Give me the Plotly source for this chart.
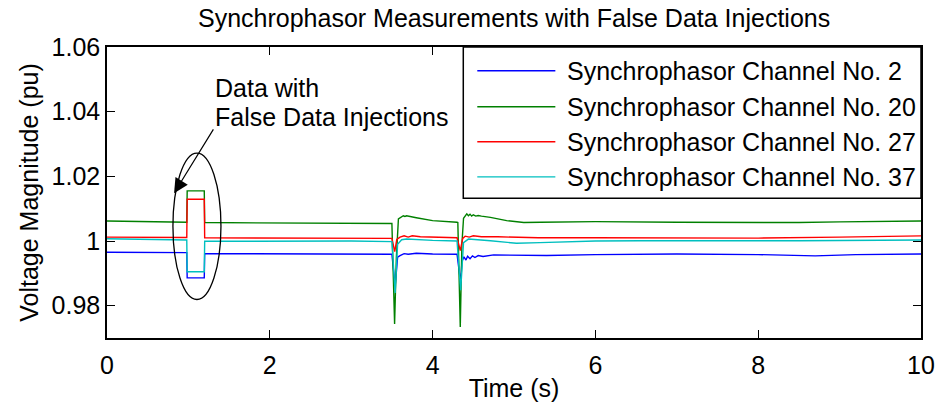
import plotly.graph_objects as go

# ---- data: time (s) and voltage magnitude (pu) breakpoints per channel ----
t_ch2 = [0, 0.98, 0.985, 1.195, 1.20, 2.0, 3.0, 3.50, 3.54, 3.57, 3.60, 3.65, 3.70, 3.80, 4.0,
         4.30, 4.345, 4.36, 4.385, 4.41, 4.43, 4.46, 4.49, 4.52, 4.56, 4.62, 4.75, 5.0, 5.4,
         6.0, 7.0, 8.0, 8.7, 9.2, 10.0]
v_ch2 = [0.9965, 0.9964, 0.9886, 0.9886, 0.9961, 0.9960, 0.9959, 0.9959, 0.9860, 0.9950, 0.9955,
         0.9961, 0.9959, 0.9962, 0.9960, 0.9959, 0.9870, 0.9936, 0.9951, 0.9941, 0.9953, 0.9945,
         0.9954, 0.9949, 0.9955, 0.9952, 0.9957, 0.9957, 0.9955, 0.9958, 0.9960, 0.9958, 0.9954,
         0.9958, 0.9960]

t_ch20 = [0, 0.5, 0.98, 0.985, 1.195, 1.20, 2.0, 3.0, 3.50, 3.533, 3.555, 3.58, 3.62, 3.64, 3.66,
          3.68, 3.80, 4.0, 4.30, 4.31, 4.34, 4.36, 4.38, 4.40, 4.42, 4.44, 4.46, 4.48, 4.50, 4.53,
          4.56, 4.60, 4.71, 4.91, 5.12, 5.33, 6.0, 7.0, 7.5, 8.5, 9.0, 10.0]
v_ch20 = [1.0062, 1.0060, 1.0058, 1.0155, 1.0155, 1.0057, 1.0056, 1.0055, 1.0054, 0.9743, 0.9950,
          1.0068, 1.0075, 1.0078, 1.0076, 1.0078, 1.0072, 1.0063, 1.0058, 1.0057, 0.9734, 0.9990,
          1.0070, 1.0078, 1.0084, 1.0078, 1.0083, 1.0077, 1.0081, 1.0077, 1.0079, 1.0077, 1.0073,
          1.0063, 1.0057, 1.0058, 1.0060, 1.0058, 1.0057, 1.0057, 1.0059, 1.0062]

t_ch27 = [0, 0.98, 0.985, 1.195, 1.20, 2.0, 3.0, 3.50, 3.535, 3.56, 3.60, 3.65, 3.70, 3.75, 3.85,
          4.0, 4.30, 4.34, 4.37, 4.40, 4.45, 4.50, 4.60, 4.80, 5.30, 6.0, 7.0, 8.0, 9.0, 10.0]
v_ch27 = [1.0012, 1.0011, 1.0129, 1.0129, 1.0010, 1.0009, 1.0008, 1.0008, 0.9967, 1.0005, 1.0012,
          1.0016, 1.0012, 1.0016, 1.0013, 1.0012, 1.0010, 0.9970, 1.0008, 1.0015, 1.0012, 1.0016,
          1.0013, 1.0013, 1.0010, 1.0010, 1.0010, 1.0009, 1.0012, 1.0016]

t_ch37 = [0, 0.5, 0.98, 0.985, 1.195, 1.20, 2.0, 3.0, 3.50, 3.54, 3.57, 3.62, 3.68, 3.80, 4.0,
          4.30, 4.345, 4.38, 4.44, 4.71, 5.03, 5.32, 6.0, 6.55, 7.5, 8.5, 10.0]
v_ch37 = [1.0007, 1.0005, 1.0003, 0.9905, 0.9905, 0.9999, 1.0000, 1.0000, 0.9998, 0.9839, 0.9990,
          1.0004, 1.0006, 1.0004, 1.0002, 1.0000, 0.9848, 0.9995, 1.0006, 1.0001, 0.9993, 0.9995,
          1.0000, 1.0001, 1.0000, 1.0001, 1.0003]

series_names = ["Synchrophasor Channel No. 2", "Synchrophasor Channel No. 20",
                "Synchrophasor Channel No. 27", "Synchrophasor Channel No. 37"]
series_colors = ["#0000ff", "#008000", "#ff0000", "#00bfbf"]
series_t = [t_ch2, t_ch20, t_ch27, t_ch37]
series_v = [v_ch2, v_ch20, v_ch27, v_ch37]

x_ticks = [0, 2, 4, 6, 8, 10]
y_ticks = [0.98, 1.00, 1.02, 1.04, 1.06]
y_tick_text = ["0.98", "1", "1.02", "1.04", "1.06"]

FONT = "Liberation Sans, Arial, sans-serif"
FS = 25

fig = go.Figure()
for name, color, tt, vv in zip(series_names, series_colors, series_t, series_v):
    fig.add_trace(go.Scatter(x=tt, y=vv, mode="lines", name=name,
                             line=dict(color=color, width=1.4), showlegend=False))

# hand-built legend box (long sample lines)
lg_x0, lg_x1, lg_y0, lg_y1 = 0.4377, 1.0, 0.4806, 1.0
row_y = [0.9185, 0.7946, 0.6742, 0.5538]
shapes = [dict(type="rect", xref="paper", yref="paper", x0=lg_x0, x1=lg_x1, y0=lg_y0, y1=lg_y1,
               fillcolor="white", line=dict(color="black", width=1.5), layer="above")]
annotations = []
for name, color, ry in zip(series_names, series_colors, row_y):
    shapes.append(dict(type="line", xref="paper", yref="paper", x0=0.4549, x1=0.5508, y0=ry, y1=ry,
                       line=dict(color=color, width=1.4), layer="above"))
    annotations.append(dict(xref="paper", yref="paper", x=0.5630, y=ry, text=name, showarrow=False,
                            xanchor="left", yanchor="middle", font=dict(family=FONT, size=FS, color="black")))

# ellipse around the injected interval
shapes.append(dict(type="circle", xref="x", yref="y", x0=0.81, x1=1.40, y0=0.9819, y1=1.0272,
                   line=dict(color="black", width=1.3)))

# callout text and arrow
annotations.append(dict(xref="x", yref="y", x=1.306, y=1.0474, text="Data with", showarrow=False,
                        xanchor="left", yanchor="middle", font=dict(family=FONT, size=FS, color="black")))
annotations.append(dict(xref="x", yref="y", x=1.306, y=1.0384, text="False Data Injections", showarrow=False,
                        xanchor="left", yanchor="middle", font=dict(family=FONT, size=FS, color="black")))
annotations.append(dict(xref="x", yref="y", axref="x", ayref="y", x=0.824, y=1.0148, ax=1.318, ay=1.035,
                        text="", showarrow=True, arrowhead=2, arrowsize=2.4, arrowwidth=1.2, arrowcolor="black"))

fig.update_layout(
    width=939, height=408,
    margin=dict(l=107, r=18, t=47, b=70, autoexpand=False),
    paper_bgcolor="white", plot_bgcolor="white",
    font=dict(family=FONT, size=FS, color="black"),
    title=dict(text="Synchrophasor Measurements with False Data Injections", x=0.5475, xanchor="center",
               y=0.955, yanchor="middle", font=dict(family=FONT, size=FS, color="black")),
    shapes=shapes, annotations=annotations,
)
fig.update_xaxes(range=[0, 10], tickvals=x_ticks, ticks="inside", ticklen=8, tickcolor="black",
                 showline=True, linecolor="black", linewidth=1.5, mirror="allticks", showgrid=False,
                 zeroline=False, automargin=False, tickfont=dict(family=FONT, size=FS),
                 ticklabelstandoff=4,
                 title=dict(text="Time (s)", font=dict(family=FONT, size=FS), standoff=2))
fig.update_yaxes(range=[0.97, 1.06], tickvals=y_ticks, ticktext=y_tick_text, ticks="inside", ticklen=8,
                 tickcolor="black", showline=True, linecolor="black", linewidth=1.5, mirror="allticks",
                 showgrid=False, zeroline=False, automargin=False, tickfont=dict(family=FONT, size=FS),
                 title=dict(text="Voltage Magnitude (pu)", font=dict(family=FONT, size=FS), standoff=6))

fig.write_html("out.html")
